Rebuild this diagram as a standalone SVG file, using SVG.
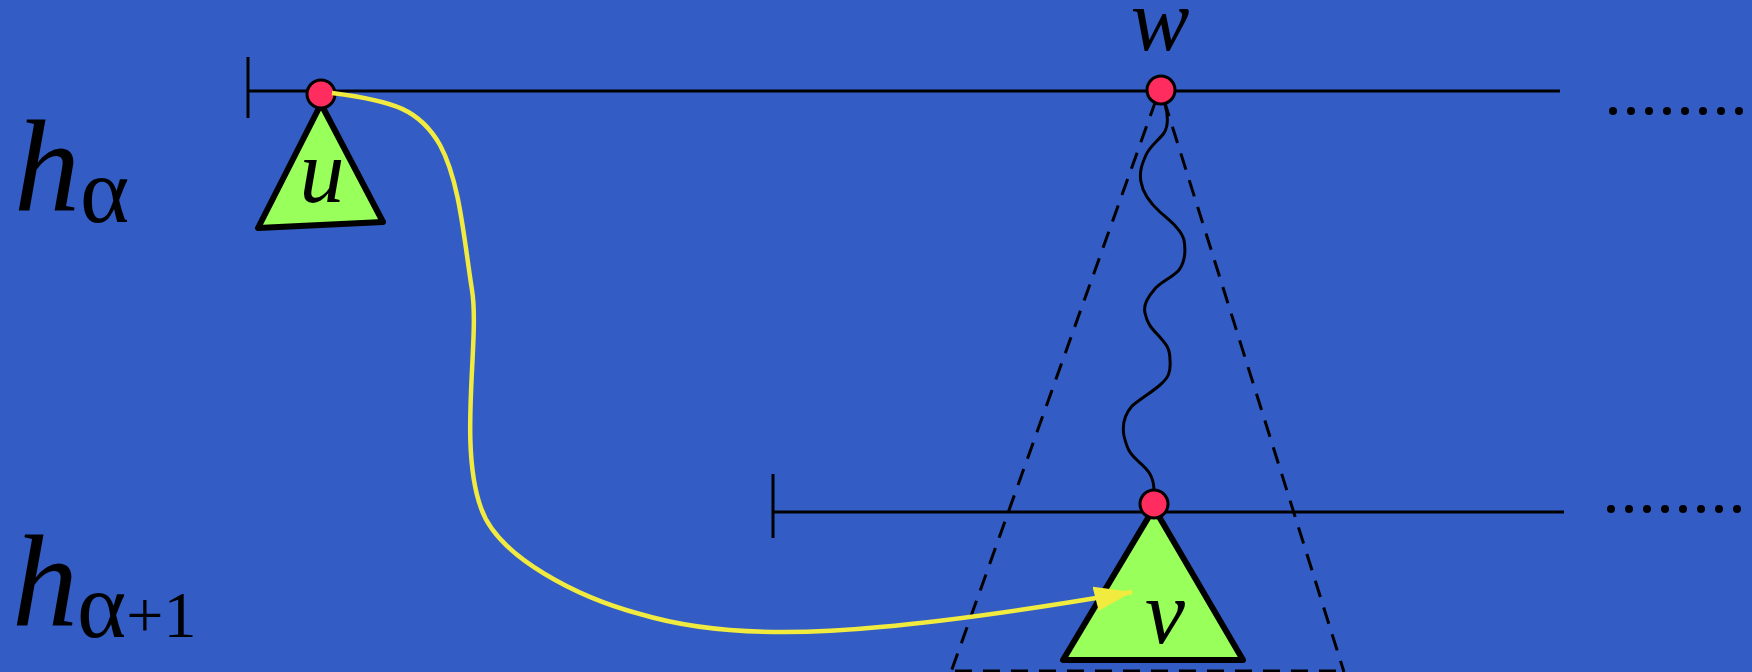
<svg xmlns="http://www.w3.org/2000/svg" width="1752" height="672" viewBox="0 0 1752 672">
<style>
.ln{stroke:#000;stroke-width:3;fill:none}
.dash{stroke:#000;stroke-width:3;fill:none;stroke-dasharray:17 11}
.tri{fill:#99FF5A;stroke:#000;stroke-width:6;stroke-linejoin:round}
.pt{fill:#FF2D5F;stroke:#000;stroke-width:3}
.lab{font-family:"Liberation Serif",serif;font-style:italic;fill:#000}
.dot{fill:#000}
</style>
<defs>
<marker id="arr" markerUnits="userSpaceOnUse" markerWidth="42" markerHeight="28" refX="38" refY="12" orient="auto">
<polygon points="0,0 38,12 2,25" fill="#F2EB3F"/>
</marker>
</defs>
<rect width="1752" height="672" fill="#335DC4"/>
<g id="levels">
<line class="ln" x1="248" y1="57" x2="248" y2="118"/>
<line class="ln" x1="248" y1="91" x2="1560" y2="91"/>
<line class="ln" x1="773" y1="474" x2="773" y2="538"/>
<line class="ln" x1="773" y1="512" x2="1564" y2="512"/>
<text class="lab" x="14" y="211" font-size="132">h</text>
<text x="80" y="222" font-family="Liberation Serif,serif" font-size="94">α</text>
<text class="lab" x="12" y="626" font-size="132">h</text>
<text x="77" y="637" font-family="Liberation Serif,serif" font-size="94">α<tspan font-size="66">+1</tspan></text>
</g>
<g id="dots">
<circle class="dot" cx="1613" cy="111" r="4"/><circle class="dot" cx="1631" cy="111" r="4"/><circle class="dot" cx="1649" cy="111" r="4"/><circle class="dot" cx="1667" cy="111" r="4"/><circle class="dot" cx="1685" cy="111" r="4"/><circle class="dot" cx="1703" cy="111" r="4"/><circle class="dot" cx="1721" cy="111" r="4"/><circle class="dot" cx="1739" cy="111" r="4"/>
<circle class="dot" cx="1611" cy="509" r="4"/><circle class="dot" cx="1629" cy="509" r="4"/><circle class="dot" cx="1647" cy="509" r="4"/><circle class="dot" cx="1665" cy="509" r="4"/><circle class="dot" cx="1683" cy="509" r="4"/><circle class="dot" cx="1701" cy="509" r="4"/><circle class="dot" cx="1719" cy="509" r="4"/><circle class="dot" cx="1737" cy="509" r="4"/>
</g>
<g id="cone">
<line class="dash" x1="1156" y1="100" x2="951" y2="672"/>
<line class="dash" x1="1164" y1="100" x2="1344" y2="672"/>
<line class="dash" x1="955" y1="671" x2="1344" y2="671"/>
</g>
<g id="node-u">
<polygon class="tri" points="321,104 258,228 383,222"/>
<circle class="pt" cx="321" cy="94" r="14"/>
<text class="lab" x="322" y="202" font-size="90" text-anchor="middle">u</text>
</g>
<g id="node-v">
<polygon class="tri" points="1154,508 1063,660 1243,660"/>
<circle class="pt" cx="1154" cy="504" r="14"/>
<text class="lab" x="1165" y="643" font-size="90" text-anchor="middle">v</text>
</g>
<g id="node-w">
<circle class="pt" cx="1161" cy="90" r="14"/>
<text class="lab" x="1160" y="50" font-size="88" text-anchor="middle">w</text>
</g>
<g id="connectors">
<path class="ln" stroke-width="2.5" d="M1165,104 C1168,115 1169,125 1164,133 C1158,141 1150,146 1146,155 C1142,164 1139,172 1141,182 C1143,194 1150,203 1160,212 C1170,221 1181,229 1184,240 C1186,252 1185,262 1179,270 C1172,278 1160,282 1154,290 C1147,298 1143,305 1145,313 C1147,322 1150,327 1158,335 C1166,344 1170,348 1170,360 C1171,373 1168,378 1160,385 C1152,392 1140,399 1132,406 C1125,414 1122,425 1124,436 C1127,448 1129,453 1138,461 C1147,469 1154,475 1154,491"/>
<path d="M332,93 C395,101 420,110 440,145 C460,182 464,240 472,290 C480,340 458,445 481,508 C498,558 580,598 640,614 C720,638 820,633 880,627 C960,620 1050,606 1132,592" fill="none" stroke="#F2EB3F" stroke-width="4.5" marker-end="url(#arr)"/>
</g>
</svg>
